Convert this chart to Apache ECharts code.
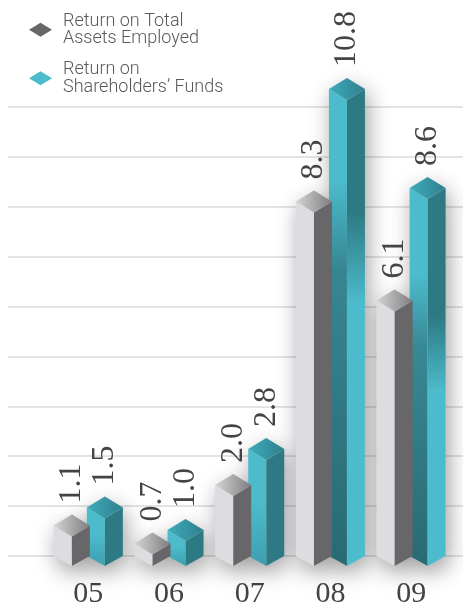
<!DOCTYPE html>
<html>
<head>
<meta charset="utf-8">
<style>
html, body { margin: 0; padding: 0; background: #fff; }
#main { width: 463px; height: 603px; }
</style>
<script src="https://cdn.jsdelivr.net/npm/echarts@6/dist/echarts.min.js"></script>
</head>
<body>
<div id="main"></div>
<script>
var years = ['05', '06', '07', '08', '09'];
var totalAssets = [1.1, 0.7, 2.0, 8.3, 6.1];
var shareholdersFunds = [1.5, 1.0, 2.8, 10.8, 8.6];
var gridSteps = 9;

var nameAssets = 'Return on Total\nAssets Employed';
var nameFunds = 'Return on\nShareholders\u2019 Funds';

var halfW = 18, halfH = 11;
var LG = echarts.graphic.LinearGradient;

function toRows(arr) {
    return arr.map(function (v, i) { return [i, v]; });
}

function vert(stops) {
    return new LG(0, 0, 0, 1, stops.map(function (s) { return { offset: s[0], color: s[1] }; }));
}

function horiz(a, b) {
    return new LG(0, 0, 1, 0, [{ offset: 0, color: a }, { offset: 1, color: b }]);
}

// the taller teal bars swap light and dark faces part way down
function tealFaces(v) {
    var light = '#4cbccc', dark = '#2e7a84', deep = '#286a74';
    if (v > 10) {
        return {
            left: vert([[0, light], [0.19, light], [0.38, '#368692'], [1, deep]]),
            right: vert([[0, dark], [0.26, dark], [0.45, light], [1, light]])
        };
    }
    if (v > 8) {
        return {
            left: vert([[0, light], [0.23, light], [0.42, '#388894'], [1, deep]]),
            right: vert([[0, dark], [0.34, dark], [0.54, light], [1, light]])
        };
    }
    return { left: vert([[0, light], [0.45, light], [1, '#3d9fae']]), right: dark };
}

function barItem(offset, isTeal) {
    return function (params, api) {
        var v = api.value(1);
        var p = api.coord([api.value(0), v]);
        var base = api.coord([api.value(0), 0.444])[1];
        var cx = p[0] + offset, f = p[1];
        var faces = isTeal ? tealFaces(v) : { left: '#dcdde0', right: '#676769' };
        var top = isTeal ? horiz('#3eabbb', '#2f808d') : horiz('#d4d4d5', '#7e7e80');
        function poly(points, fill) {
            return { type: 'polygon', shape: { points: points }, style: { fill: fill } };
        }
        return {
            type: 'group',
            children: [
                poly([[cx - halfW, f - halfH], [cx, f], [cx, base], [cx - halfW, base - 10]], faces.left),
                poly([[cx + halfW, f - halfH], [cx, f], [cx, base], [cx + halfW, base - 10]], faces.right),
                poly([[cx, f - 2 * halfH], [cx + halfW, f - halfH], [cx, f], [cx - halfW, f - halfH]], top),
                {
                    type: 'text',
                    x: cx,
                    y: f - 2 * halfH - 11,
                    rotation: Math.PI / 2,
                    style: {
                        text: v.toFixed(1),
                        fill: '#444446',
                        font: '32px "Liberation Serif"',
                        align: 'left',
                        verticalAlign: 'middle'
                    }
                }
            ]
        };
    };
}

function shadowItem(offset) {
    return function (params, api) {
        var p = api.coord([api.value(0), api.value(1)]);
        var base = api.coord([api.value(0), 0.444])[1];
        var cx = p[0] + offset, f = p[1];
        return {
            type: 'polygon',
            shape: {
                points: [[cx - halfW, f - halfH], [cx, f - 2 * halfH], [cx + halfW, f - halfH],
                    [cx + halfW, base - 10], [cx, base], [cx - halfW, base - 10]]
            },
            style: {
                fill: '#ddd',
                shadowBlur: 22,
                shadowColor: 'rgba(0,0,0,0.38)',
                shadowOffsetX: 3,
                shadowOffsetY: 8
            }
        };
    };
}

var chart = echarts.init(document.getElementById('main'));
chart.setOption({
    animation: false,
    backgroundColor: '#fff',
    legend: {
        data: [nameAssets, nameFunds],
        orient: 'vertical',
        left: 24,
        top: 7,
        itemWidth: 23,
        itemHeight: 14,
        itemGap: 13,
        icon: 'path://M0,7 L11.5,0 L23,7 L11.5,14 Z',
        selectedMode: false,
        textStyle: {
            color: '#58595b',
            fontFamily: 'Roboto',
            fontWeight: 300,
            fontSize: 18,
            lineHeight: 17.5,
            padding: [0, 0, 0, 6]
        }
    },
    grid: [
        { left: 48, right: 11.5, top: 46, bottom: 37, outerBoundsMode: 'none' },
        { left: 8, right: 0, top: 107, bottom: 47, outerBoundsMode: 'none' }
    ],
    xAxis: [
        {
            type: 'category',
            gridIndex: 0,
            data: years,
            axisLine: { show: false },
            axisTick: { show: false },
            axisLabel: {
                margin: 13,
                color: '#444446',
                fontFamily: 'Liberation Serif',
                fontSize: 30
            }
        },
        { type: 'value', gridIndex: 1, min: 0, max: 1, show: false }
    ],
    yAxis: [
        { type: 'value', gridIndex: 0, min: 0.444, max: 12, show: false },
        {
            type: 'value',
            gridIndex: 1,
            min: 0,
            max: gridSteps,
            interval: 1,
            axisLine: { show: false },
            axisTick: { show: false },
            axisLabel: { show: false },
            splitLine: { lineStyle: { color: '#e3e3e3', width: 2 } }
        }
    ],
    series: [
        {
            name: 'shadowFunds', type: 'custom', z: 1, silent: true,
            renderItem: shadowItem(16.5), data: toRows(shareholdersFunds), encode: { x: 0, y: 1 }
        },
        {
            name: 'shadowAssets', type: 'custom', z: 1, silent: true,
            renderItem: shadowItem(-16.5), data: toRows(totalAssets), encode: { x: 0, y: 1 }
        },
        {
            name: nameFunds, type: 'custom', z: 3, silent: true,
            itemStyle: { color: '#4cbccc' },
            renderItem: barItem(16.5, true), data: toRows(shareholdersFunds), encode: { x: 0, y: 1 }
        },
        {
            name: nameAssets, type: 'custom', z: 4, silent: true,
            itemStyle: { color: '#67676a' },
            renderItem: barItem(-16.5, false), data: toRows(totalAssets), encode: { x: 0, y: 1 }
        }
    ]
});
</script>
</body>
</html>
